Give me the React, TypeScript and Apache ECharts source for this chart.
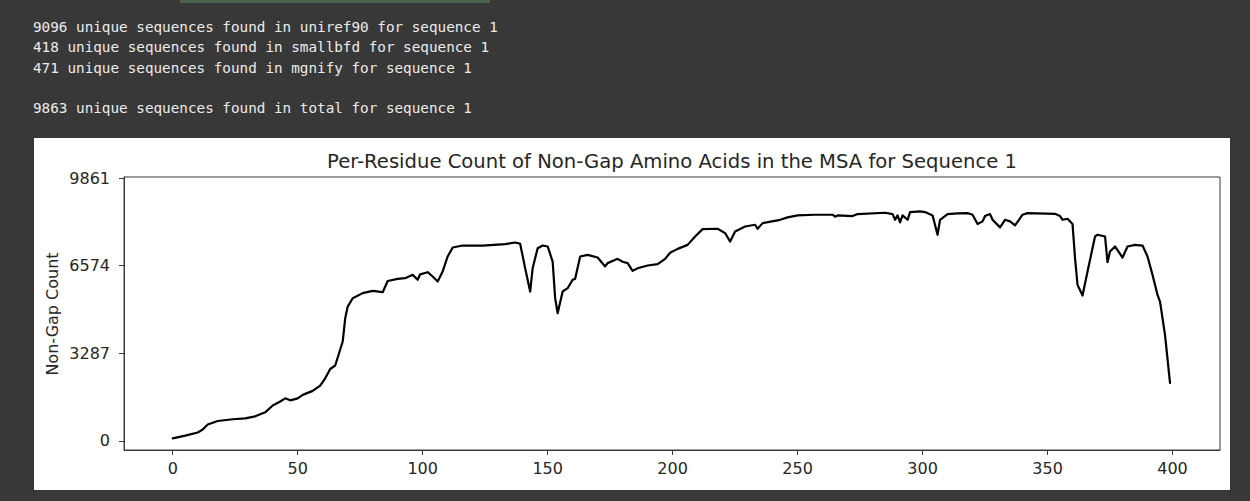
import React, { useEffect, useRef } from "react";
import * as echarts from "echarts";

const logLines = [
  "9096 unique sequences found in uniref90 for sequence 1",
  "418 unique sequences found in smallbfd for sequence 1",
  "471 unique sequences found in mgnify for sequence 1",
  "9863 unique sequences found in total for sequence 1",
];
const chartTitle = "Per-Residue Count of Non-Gap Amino Acids in the MSA for Sequence 1";
const yAxisTitle = "Non-Gap Count";

const xTicks = [0, 50, 100, 150, 200, 250, 300, 350, 400];
const yTicks = [0, 3287, 6574, 9861];

const residues = [
  0, 5, 10, 12, 14, 18, 24, 29, 33, 37, 40, 43, 45, 47, 50, 52, 56, 59, 61, 63,
  65, 66, 68, 69, 70, 72, 76, 80, 84, 86, 90, 93, 96, 98, 99, 102, 104, 106, 108, 110,
  112, 116, 124, 133, 137, 139, 141, 143, 144, 146, 148, 150, 152, 153, 154, 156, 158, 160, 161, 163,
  166, 170, 173, 174, 178, 180, 182, 184, 186, 190, 194, 197, 199, 202, 206, 209, 212, 218, 221, 223,
  225, 229, 233, 234, 236, 243, 246, 250, 257, 264, 265, 266, 272, 274, 285, 288, 289, 290, 291, 292,
  294, 295, 299, 301, 304, 306, 307, 310, 314, 318, 320, 322, 324, 325, 327, 328, 331, 333, 335, 337,
  340, 342, 353, 355, 356, 358, 360, 361, 362, 364, 366, 369, 370, 373, 374, 375, 377, 380, 382, 385,
  388, 390, 392, 394, 395, 397, 399,
];
const counts = [
  100, 200, 320, 430, 620, 750, 815, 850, 925, 1075, 1330, 1480, 1600, 1525, 1600, 1730, 1880, 2080, 2350, 2700,
  2830, 3130, 3730, 4600, 5040, 5355, 5545, 5630, 5580, 6000, 6080, 6105, 6230, 6045, 6250, 6330, 6170, 5980, 6360, 6920,
  7255, 7330, 7330, 7380, 7445, 7395, 6480, 5605, 6480, 7230, 7330, 7295, 6730, 5355, 4790, 5605, 5730, 6045, 6080, 6920,
  6980, 6880, 6545, 6670, 6830, 6720, 6670, 6380, 6480, 6580, 6630, 6830, 7060, 7205, 7355, 7670, 7945, 7960, 7795, 7480,
  7860, 8045, 8110, 7960, 8170, 8295, 8385, 8460, 8485, 8485, 8410, 8460, 8435, 8510, 8560, 8510, 8295, 8460, 8195, 8460,
  8295, 8585, 8610, 8585, 8460, 7735, 8295, 8510, 8535, 8545, 8485, 8135, 8235, 8435, 8510, 8295, 8010, 8295, 8235, 8085,
  8485, 8545, 8520, 8435, 8295, 8335, 8135, 6860, 5855, 5455, 6355, 7670, 7735, 7670, 6705, 7105, 7295, 6880, 7295, 7355,
  7330, 6920, 6230, 5480, 5230, 3980, 2180,
];

export default function App() {
  const ref = useRef<HTMLDivElement>(null);

  useEffect(() => {
    const chart = echarts.init(ref.current as HTMLDivElement, null, { renderer: "svg" });
    const axisColor = "#3a3a3a";
    const labelColor = "#262626";
    const font = "DejaVu Sans";
    const lineCenters = [26.7, 47.3, 67.7, 108.3];

    chart.setOption({
      animation: false,
      backgroundColor: "#383838",
      graphic: [
        {
          type: "rect",
          z: -10,
          shape: { x: 180, y: 0, width: 310, height: 3 },
          style: { fill: "#4a614d" },
        },
        {
          type: "rect",
          z: -10,
          shape: { x: 34, y: 138, width: 1196, height: 352 },
          style: { fill: "#ffffff" },
        },
        ...logLines.map((t, i) => ({
          type: "text",
          x: 33,
          y: lineCenters[i],
          style: {
            text: t,
            fill: "#ececec",
            fontFamily: "DejaVu Sans Mono",
            fontSize: 14.3,
            textAlign: "left",
            textVerticalAlign: "middle",
          },
        })),
        {
          type: "text",
          x: 672,
          y: 161,
          style: {
            text: chartTitle,
            fill: labelColor,
            fontFamily: font,
            fontSize: 19.6,
            textAlign: "center",
            textVerticalAlign: "middle",
          },
        },
        {
          type: "text",
          x: 52,
          y: 314,
          rotation: Math.PI / 2,
          style: {
            text: yAxisTitle,
            fill: labelColor,
            fontFamily: font,
            fontSize: 16,
            textAlign: "center",
            textVerticalAlign: "middle",
          },
        },
      ],
      grid: {
        left: 124,
        right: 30,
        top: 177,
        bottom: 51,
        show: true,
        borderColor: axisColor,
        borderWidth: 1,
        backgroundColor: "transparent",
        containLabel: false,
        outerBoundsMode: "none",
      },
      xAxis: {
        type: "value",
        min: -19.5,
        max: 419,
        splitLine: { show: false },
        axisLine: { show: true, onZero: false, lineStyle: { color: axisColor, width: 1 } },
        axisTick: {
          show: true,
          inside: false,
          length: 5,
          customValues: xTicks,
          lineStyle: { color: axisColor, width: 1 },
        },
        axisLabel: {
          customValues: xTicks,
          margin: 10.5,
          color: labelColor,
          fontFamily: font,
          fontSize: 16,
          formatter: (v: number) => String(v),
        },
      },
      yAxis: {
        type: "value",
        min: -338,
        max: 9900,
        splitLine: { show: false },
        axisLine: { show: true, onZero: false, lineStyle: { color: axisColor, width: 1 } },
        axisTick: {
          show: true,
          inside: false,
          length: 5,
          customValues: yTicks,
          lineStyle: { color: axisColor, width: 1 },
        },
        axisLabel: {
          customValues: yTicks,
          margin: 14,
          color: labelColor,
          fontFamily: font,
          fontSize: 16,
          formatter: (v: number) => String(v),
        },
      },
      series: [
        {
          type: "line",
          data: residues.map((r, i) => [r, counts[i]]),
          showSymbol: false,
          symbol: "none",
          smooth: false,
          lineStyle: { color: "#000000", width: 2.2, join: "round", cap: "round" },
          itemStyle: { color: "#000000" },
        },
      ],
    });

    return () => chart.dispose();
  }, []);

  return (
    <div
      ref={ref}
      style={{ position: "fixed", left: 0, top: 0, width: 1250, height: 501 }}
    />
  );
}
